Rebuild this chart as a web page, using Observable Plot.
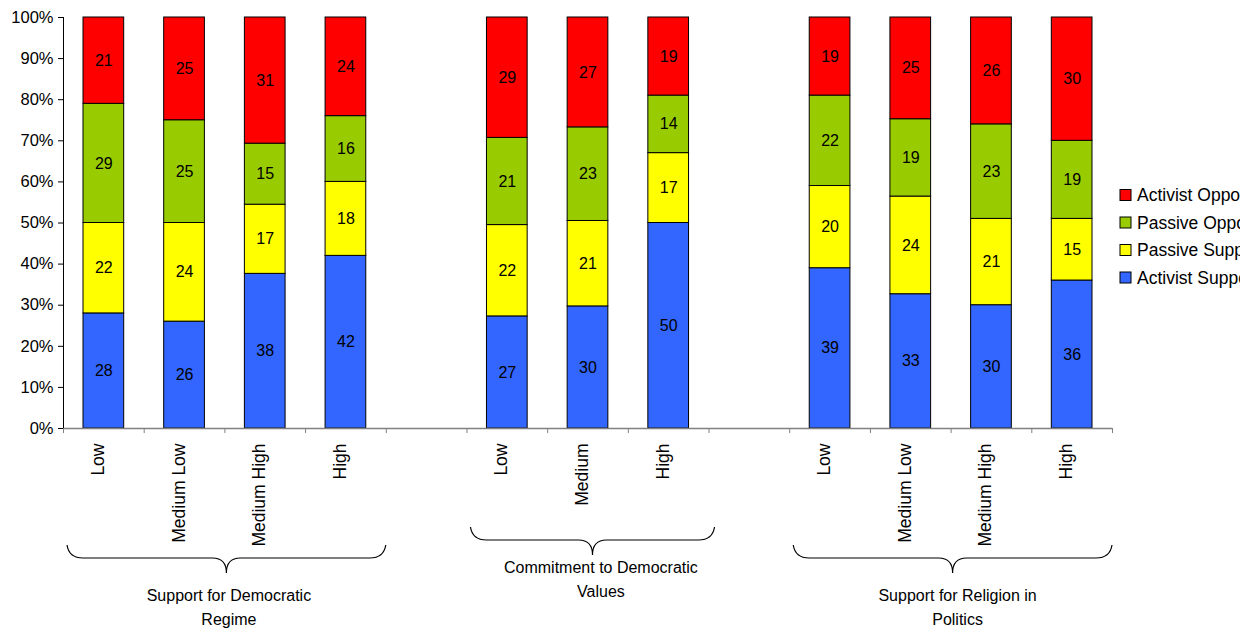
<!DOCTYPE html>
<html><head><meta charset="utf-8">
<script src="https://cdn.jsdelivr.net/npm/d3@7"></script>
<script src="https://cdn.jsdelivr.net/npm/@observablehq/plot@0.6"></script>
<style>
html,body{margin:0;padding:0;background:#fff;overflow:hidden;}
#chart{width:1240px;height:630px;overflow:hidden;}
</style>
</head><body><div id="chart"></div>
<script>
// categories per slot (gaps are empty slots)
const slotLabels = ["Low","Medium Low","Medium High","High","","Low","Medium","High","","Low","Medium Low","Medium High","High"];
const barSlots = [0,1,2,3,5,6,7,9,10,11,12];
const seriesNames = ["Activist Supporters","Passive Supporters","Passive Opponents","Activist Opponents"];
const seriesColors = ["#3366FF","#FFFF00","#99CC00","#FF0000"];
const activistSupp = [28,26,38,42,27,30,50,39,33,30,36];
const passiveSup   = [22,24,17,18,22,21,17,20,24,21,15];
const passiveOpp   = [29,25,15,16,21,23,14,22,19,23,19];
const activistOpp  = [21,25,31,24,29,27,19,19,25,26,30];
const groups = [
  {label:"Support for Democratic\nRegime", from:0, to:4, center:2.05},
  {label:"Commitment to Democratic\nValues", from:5, to:8, center:6.66},
  {label:"Support for Religion in\nPolitics", from:9, to:13, center:11.08}
];
const groupLabelDy = [155, 127, 155];

const seriesValues = [activistSupp, passiveSup, passiveOpp, activistOpp];
const rows = [];
barSlots.forEach((slot, i) => {
  seriesNames.forEach((s, k) => {
    rows.push({slot, s0: slot, s1: slot + 1, mid: slot + 0.5, series: s, value: seriesValues[k][i]});
  });
});
const labelRows = slotLabels.map((l, i) => ({x: i + 0.5, label: l})).filter(d => d.label);

const font = "'Liberation Sans', Arial, sans-serif";
const plot = Plot.plot({
  width: 1240, height: 630,
  marginLeft: 63, marginRight: 128, marginTop: 17, marginBottom: 202,
  style: {fontFamily: font, fontSize: "16px", color: "#000", background: "#fff"},
  x: {domain: [0, 13], axis: null},
  y: {domain: [0, 1], axis: null},
  color: {domain: seriesNames, range: seriesColors},
  marks: [
    Plot.rectY(rows, Plot.stackY({x1: "s0", x2: "s1", y: "value", fill: "series", z: "series",
      order: seriesNames, offset: "normalize", stroke: "#000", strokeWidth: 1,
      insetLeft: 20, insetRight: 20})),
    Plot.text(rows, Plot.stackY({x: "mid", y: "value", z: "series", order: seriesNames, offset: "normalize",
      text: d => String(d.value), fill: "#000", fontSize: 16})),
    Plot.axisY({ticks: d3.range(0, 1.0001, 0.1), tickFormat: d3.format(".0%"), tickSize: 5, tickPadding: 5,
      label: null, fontSize: 16.5, color: "#000"}),
    Plot.axisX({ticks: d3.range(0, 14), tickFormat: () => "", tickSize: 5, label: null, stroke: "#808080"}),
    Plot.ruleY([0], {stroke: "#808080", strokeWidth: 1.5}),
    Plot.ruleX([0], {stroke: "#000"}),
    Plot.text(labelRows, {x: "x", frameAnchor: "bottom", dy: 15, rotate: -90, textAnchor: "end",
      text: "label", fontSize: 17.5, fill: "#000"}),
    ...groups.map((g, i) => Plot.text([g], {x: "center", frameAnchor: "bottom",
      dy: groupLabelDy[i], lineAnchor: "top", lineHeight: 1.5, text: "label", fontSize: 16, fill: "#000"}))
  ]
});

// decorations: braces and legend
const svg = d3.select(plot);
const sx = plot.scale("x").apply;
const yBase = 428;
groups.forEach((g, i) => {
  const x1 = sx(g.from) + 4, x2 = sx(g.to) + (i === 1 ? 6 : 0), xc = (x1 + x2) / 2;
  const y0 = yBase + (i === 1 ? 99 : 117), y1 = y0 + 13, y2 = y0 + 28;
  const p = `M${x1},${y0} Q${x1 + 2},${y1} ${x1 + 16},${y1} L${xc - 14},${y1} Q${xc},${y1} ${xc},${y2} ` +
            `Q${xc},${y1} ${xc + 14},${y1} L${x2 - 16},${y1} Q${x2 - 2},${y1} ${x2},${y0}`;
  svg.append("path").attr("d", p).attr("fill", "none").attr("stroke", "#000").attr("stroke-width", 1.2);
});
const leg = svg.append("g").attr("font-family", font).attr("font-size", 17.5).attr("text-anchor", "start");
const legendOrder = [3, 2, 1, 0];
legendOrder.forEach((k, j) => {
  const y = 195 + j * 27.5;
  leg.append("rect").attr("x", 1120).attr("y", y - 5.5).attr("width", 11).attr("height", 11)
    .attr("fill", seriesColors[k]).attr("stroke", "#000");
  leg.append("text").attr("x", 1137).attr("y", y).attr("dy", "0.35em").attr("fill", "#000")
    .attr("text-anchor", "start").text(seriesNames[k]);
});
document.getElementById("chart").appendChild(plot);
</script>
</body></html>
